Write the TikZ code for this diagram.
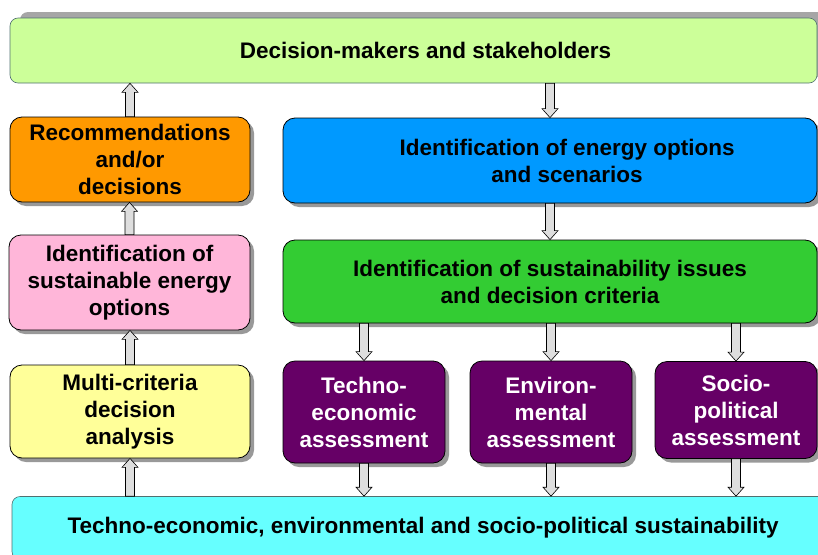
\documentclass[tikz,border=0pt]{standalone}
\usepackage{fontspec}
\setmainfont{Liberation Sans}
\usetikzlibrary{shapes,arrows,shadows,calc,positioning}
\definecolor{dmgreen}{HTML}{CCFF99}
\definecolor{recorange}{HTML}{FF9900}
\definecolor{optblue}{HTML}{0099FF}
\definecolor{suspink}{HTML}{FFB6D9}
\definecolor{issgreen}{HTML}{33CC33}
\definecolor{mcdayellow}{HTML}{FFFF99}
\definecolor{asspurple}{HTML}{660066}
\definecolor{allcyan}{HTML}{66FFFF}
\definecolor{tealgray}{HTML}{507070}
\tikzset{auto, x=1pt, y=-1pt, font=\fontsize{22.5}{27}\selectfont\bfseries}
\tikzstyle{box} = [draw, line width=0.8pt, rectangle, rounded corners=12pt, align=center, inner sep=2pt, drop shadow={shadow xshift=4pt, shadow yshift=-4pt, fill=black!40, opacity=1}]
\tikzstyle{frame} = [draw=tealgray, line width=0.6pt, rectangle, rounded corners=8pt, align=center, inner sep=2pt]
\tikzstyle{assess} = [box, fill=asspurple, text=white, minimum width=162pt]
\tikzstyle{flowarrow} = [draw=black, fill=black!13, line width=0.6pt, line join=miter]
\newcommand{\flowarr}[2]{\draw[flowarrow] let \p1=(#1), \p2=(#2), \n1={(\y2>\y1) ? 1 : -1} in
    (\x1-4.5pt,\y1) -- (\x1-4.5pt,\y2-\n1*9pt) -- (\x1-8pt,\y2-\n1*9pt) -- (\x1,\y2)
    -- (\x1+8pt,\y2-\n1*9pt) -- (\x1+4.5pt,\y2-\n1*9pt) -- (\x1+4.5pt,\y1) -- cycle;}

\begin{document}
\begin{tikzpicture}
    \path[use as bounding box, clip] (0,0) rectangle (818,554);

    \node [frame, fill=dmgreen, minimum width=807pt, minimum height=65pt, drop shadow={shadow xshift=10pt, shadow yshift=6pt, fill=black!35, opacity=1}] (dm) at (413.5,50.5) {\hspace*{24pt}Decision-makers and stakeholders};
    \node [box, fill=recorange, minimum width=240pt, minimum height=85pt] (rec) at (130,159.5) {Recommendations\\and/or\\decisions};
    \node [box, fill=optblue, minimum width=534pt, minimum height=85pt] (opt) at (550,160.5) {\hspace*{34pt}Identification of energy options\\\hspace*{34pt}and scenarios};
    \node [box, fill=suspink, minimum width=241pt, minimum height=95pt] (sus_opt) at (129.5,282.5) {Identification of\\sustainable energy\\options};
    \node [box, fill=issgreen, minimum width=534pt, minimum height=83pt] (sus_iss) at (550,281.5) {Identification of sustainability issues\\and decision criteria};
    \node [box, fill=mcdayellow, minimum width=240pt, minimum height=93pt] (mcda) at (130,411.5) {Multi-criteria\\decision\\analysis};
    \node [assess, minimum height=102pt] (ass_te) at (364,412) {Techno-\\economic\\assessment};
    \node [assess, minimum height=102pt] (ass_env) at (551,412) {Environ-\\mental\\assessment};
    \node [assess, minimum height=97pt] (ass_sp) at (736,410) {Socio-\\political\\assessment};
    \node [frame, fill=allcyan, minimum width=822pt, minimum height=63pt] (sus_all) at (423,528) {Techno-economic, environmental and socio-political sustainability};

    % feedback column on the left
    \flowarr{sus_all.north -| mcda.south}{mcda.south}
    \flowarr{mcda.north}{sus_opt.south}
    \flowarr{sus_opt.north}{rec.south}
    \flowarr{rec.north}{dm.south -| rec.north}
    % forward path on the right
    \flowarr{dm.south -| opt.north}{opt.north}
    \flowarr{opt.south}{sus_iss.north -| opt.south}
    \flowarr{sus_iss.south -| ass_te.north}{ass_te.north}
    \flowarr{sus_iss.south -| ass_env.north}{ass_env.north}
    \flowarr{sus_iss.south -| ass_sp.north}{ass_sp.north}
    \flowarr{ass_te.south}{sus_all.north -| ass_te.south}
    \flowarr{ass_env.south}{sus_all.north -| ass_env.south}
    \flowarr{ass_sp.south}{sus_all.north -| ass_sp.south}
\end{tikzpicture}
\end{document}
